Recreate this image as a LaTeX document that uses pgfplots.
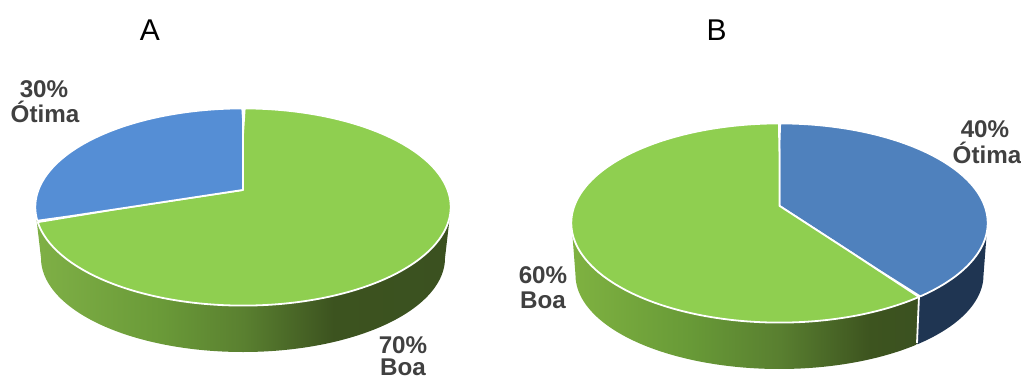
\documentclass[border=0pt]{standalone}
\usepackage{pgfplots}
\pgfplotsset{compat=1.18}
\usepackage{fontspec}
\setmainfont{Liberation Sans}

\definecolor{boaTop}{HTML}{8FCF50}
\definecolor{otimaA}{HTML}{558ED5}
\definecolor{otimaB}{HTML}{4F81BD}
\definecolor{otimaSide}{HTML}{1F3552}
\definecolor{labelGrey}{HTML}{404040}

% Side wall of the green slice: lit on the left, dark towards the right
\pgfdeclarehorizontalshading{sideGreenA}{100bp}{%
  rgb(0bp)=(0.498,0.690,0.275);
  rgb(25bp)=(0.498,0.690,0.275);
  rgb(40bp)=(0.416,0.604,0.220);
  rgb(50bp)=(0.353,0.502,0.188);
  rgb(61bp)=(0.235,0.325,0.122);
  rgb(75bp)=(0.231,0.318,0.125);
  rgb(100bp)=(0.231,0.318,0.125)}
\pgfdeclarehorizontalshading{sideGreenB}{100bp}{%
  rgb(0bp)=(0.498,0.698,0.255);
  rgb(25bp)=(0.498,0.698,0.255);
  rgb(42bp)=(0.408,0.604,0.216);
  rgb(55bp)=(0.349,0.498,0.188);
  rgb(68bp)=(0.239,0.329,0.122);
  rgb(75bp)=(0.231,0.318,0.125);
  rgb(100bp)=(0.231,0.318,0.125)}

% Top face of a slice between two cumulative percentages (clockwise from 12 o'clock).
% The tilt of the pie moves the apex above the centre of the ellipse by \TE.
\newcommand{\pieSlice}[3]{%
  \pgfmathsetmacro{\ta}{3.6*#2}%
  \pgfmathsetmacro{\tb}{3.6*#3}%
  \pgfmathsetmacro{\tlo}{\ta-2}%
  \pgfmathsetmacro{\thi}{\tb+2}%
  \addplot[fill=#1, draw=white, line width=1.8pt, line join=round, forget plot, no markers,
           variable=\s, domain=\tlo:\thi, samples=201]
    ({\TX+\TRX*(1-min(1,max(\ta-\s,0)/2+max(\s-\tb,0)/2))*sin(min(max(\s,\ta),\tb))*sqrt(1-\TE*\TE)
        /(1+\TE*(1-min(1,max(\ta-\s,0)/2+max(\s-\tb,0)/2))*cos(min(max(\s,\ta),\tb)))},
     {\TY-\TRY*((1-min(1,max(\ta-\s,0)/2+max(\s-\tb,0)/2))*cos(min(max(\s,\ta),\tb))+\TE)
        /(1+\TE*(1-min(1,max(\ta-\s,0)/2+max(\s-\tb,0)/2))*cos(min(max(\s,\ta),\tb)))}) -- cycle;
}

% Side wall: an arc of the lower ellipse with a straight run up under the top face at each end.
\newcommand{\pieSide}[7]{%
  \pgfmathsetmacro{\plo}{#2-10}%
  \pgfmathsetmacro{\phigh}{#3+10}%
  \addplot[#1, draw=none, forget plot, no markers,
           variable=\s, domain=\plo:\phigh, samples=201]
    ({\CX+\RX*cos(min(max(\s,#2),#3))+(#4)*max(#2-\s,0)/10+(#6)*max(\s-(#3),0)/10},
     {\CY+\RY*sin(min(max(\s,#2),#3))+(#5)*max(#2-\s,0)/10+(#7)*max(\s-(#3),0)/10}) -- cycle;
}

\begin{document}
\begin{tikzpicture}[x=1pt,y=1pt]
\useasboundingbox (0,0) rectangle (1021,380);
\begin{axis}[
  at={(0,0)}, anchor=south west,
  scale only axis, width=1021pt, height=380pt,
  xmin=0, xmax=1021, ymin=0, ymax=380, y dir=reverse,
  hide axis, clip=false]

% --- Pie A: Boa 70, Otima 30 ---
\def\CX{243}\def\CY{258}\def\RX{202}\def\RY{94}
\pieSide{shade, shading=sideGreenA}{0}{180}{5}{-43}{-5}{-43}
\def\TX{243}\def\TY{207}\def\TRX{207.7}\def\TRY{98.6}\def\TE{0.173}
\pieSlice{boaTop}{0}{70}
\pieSlice{otimaA}{70}{100}

% --- Pie B: Otima 40, Boa 60 ---
\def\CX{779.5}\def\CY{275}\def\RX{204}\def\RY{94}
\pieSide{fill=otimaSide}{0}{47.6}{4}{-52}{2}{-64}
\pieSide{shade, shading=sideGreenB}{47.6}{180}{2}{-64}{-4}{-52}
\addplot[white, line width=1.8pt, forget plot, no markers] coordinates {(919,296) (917,343)};
\def\TX{779.5}\def\TY{223}\def\TRX{208.2}\def\TRY{99.6}\def\TE{0.172}
\pieSlice{otimaB}{0}{40}
\pieSlice{boaTop}{40}{100}

% Panel letters
\node[anchor=base, font=\fontsize{30}{30}\selectfont] at (axis cs:150,41) {A};
\node[anchor=base, font=\fontsize{30}{30}\selectfont] at (axis cs:716.5,41) {B};

% Slice labels
\begin{scope}[every node/.style={anchor=base, inner sep=0pt, text=labelGrey,
    font=\fontsize{24.2}{25}\selectfont\bfseries}]
\node at (axis cs:44,97) {30\%};
\node at (axis cs:45,122) {Ótima};
\node at (axis cs:403,353) {70\%};
\node at (axis cs:403,375) {Boa};
\node at (axis cs:985,137) {40\%};
\node at (axis cs:987,163) {Ótima};
\node at (axis cs:543,283) {60\%};
\node at (axis cs:543,308) {Boa};
\end{scope}
\end{axis}
\end{tikzpicture}
\end{document}
